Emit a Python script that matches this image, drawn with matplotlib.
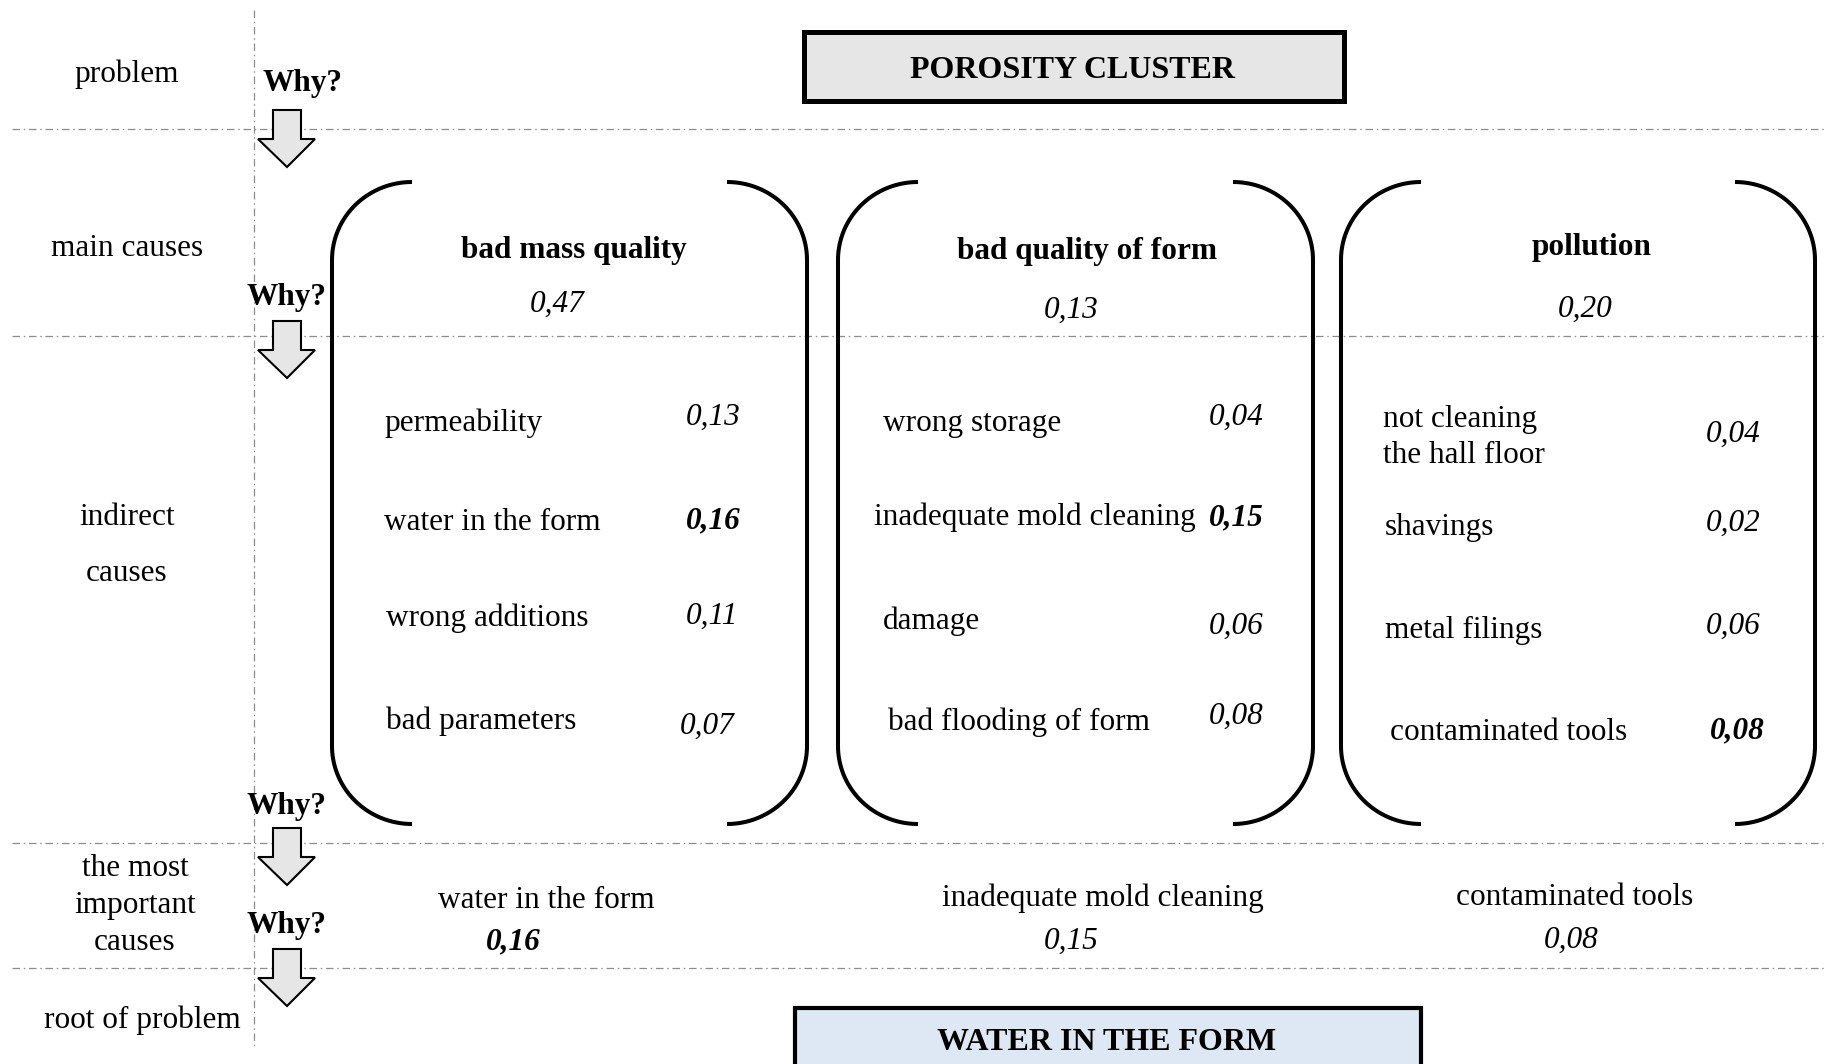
import numpy as np
import matplotlib
matplotlib.use('Agg')
import matplotlib.pyplot as plt
from matplotlib.patches import Rectangle, Polygon

# ==========================================
# DATA
# ==========================================
PROBLEM = 'POROSITY CLUSTER'
ROOT = 'WATER IN THE FORM'

levels = ['problem', 'main causes', 'indirect', 'causes',
          'the most', 'important', 'causes', 'root of problem']

main_causes = ['bad mass quality', 'bad quality of form', 'pollution']
main_weights = [0.47, 0.13, 0.20]

indirect_1 = ['permeability', 'water in the form', 'wrong additions', 'bad parameters']
weights_1 = [0.13, 0.16, 0.11, 0.07]
indirect_2 = ['wrong storage', 'inadequate mold cleaning', 'damage', 'bad flooding of form']
weights_2 = [0.04, 0.15, 0.06, 0.08]
indirect_3 = ['not cleaning\nthe hall floor', 'shavings', 'metal filings', 'contaminated tools']
weights_3 = [0.04, 0.02, 0.06, 0.08]

top_causes = ['water in the form', 'inadequate mold cleaning', 'contaminated tools']
top_weights = [0.16, 0.15, 0.08]


def fmt(v):
    return f'{v:.2f}'.replace('.', ',')


# ==========================================
# LAYOUT (pixel coordinates of the 1825x1064 canvas)
# ==========================================
plt.rcParams['font.family'] = ['Liberation Serif', 'DejaVu Serif']
FS = 22.5
DY = 3.5  # small baseline nudge for all text

fig = plt.figure(figsize=(18.25, 10.64), dpi=100)
ax = fig.add_axes([0, 0, 1, 1])
ax.set_xlim(0, 1825)
ax.set_ylim(1064, 0)
ax.axis('off')


def txt(x, y, s, **kw):
    kw.setdefault('ha', 'center')
    kw.setdefault('va', 'center')
    kw.setdefault('fontsize', FS)
    ax.text(x, y + DY, s, **kw)


dash = (0, (6, 3, 1.2, 3))
grey = '#8c8c8c'
ax.plot([254, 254], [10, 1047], color=grey, lw=0.9, ls=dash)
for y in [129, 336, 843, 968]:
    ax.plot([12, 1825], [y, y], color=grey, lw=0.9, ls=dash)

# level labels on the left
level_pos = [(127, 71), (127, 245), (127, 514), (127, 570),
             (135, 865), (135, 902), (135, 939), (142, 1017)]
for lab, (x, y) in zip(levels, level_pos):
    txt(x, y, lab)

# "Why?" + arrows
why_pos = [(303, 80), (287, 294), (287, 803), (287, 922)]
arrow_top = [110, 321, 828, 949]
for (x, y), top in zip(why_pos, arrow_top):
    txt(x, y, 'Why?', fontweight='bold')
    pts = [(273, top), (301, top), (301, top + 29), (315, top + 29),
           (287, top + 57), (258, top + 29), (273, top + 29)]
    ax.add_patch(Polygon(pts, closed=True, facecolor='#e6e6e6', edgecolor='black', lw=1.5, zorder=3))

# problem and root boxes
ax.add_patch(Rectangle((804, 32), 540, 69, facecolor='#e6e6e6', edgecolor='black', lw=3.6))
txt(1073, 67, PROBLEM, fontsize=23, fontweight='bold')
ax.add_patch(Rectangle((795, 1008), 626, 70, facecolor='#dde8f4', edgecolor='black', lw=3.0))
txt(1107, 1039, ROOT, fontsize=23, fontweight='bold')


# brackets
def bracket(xv, side, y0=182, y1=824, rx=80, ry=78):
    t = np.linspace(0, np.pi / 2, 40)
    d = 1 if side == 'left' else -1
    top_x = xv + d * rx * (1 - np.sin(t))
    top_y = y0 + ry * (1 - np.cos(t))
    bot_x = xv + d * rx * (1 - np.cos(t))
    bot_y = y1 - ry + ry * np.sin(t)
    xs = np.concatenate([top_x, bot_x])
    ys = np.concatenate([top_y, bot_y])
    ax.plot(xs, ys, color='black', lw=2.9, solid_capstyle='butt')


for xl, xr in [(332, 807), (838, 1313), (1341, 1815)]:
    bracket(xl, 'left')
    bracket(xr, 'right')

# main causes
main_pos = [(574, 247, 557, 301), (1087, 248, 1071, 307), (1592, 244, 1585, 306)]
for name, w, (xn, yn, xw, yw) in zip(main_causes, main_weights, main_pos):
    txt(xn, yn, name, fontweight='bold')
    txt(xw, yw, fmt(w), style='italic')

# indirect causes
groups = [
    (indirect_1, weights_1, [384, 384, 386, 386], [420, 519, 615, 718],
     [713, 713, 712, 707], [414, 517, 613, 723]),
    (indirect_2, weights_2, [883, 874, 883, 888], [420, 514, 618, 719],
     [1236, 1236, 1236, 1236], [414, 514, 623, 713]),
    (indirect_3, weights_3, [1383, 1385, 1385, 1390], [434, 524, 627, 729],
     [1733, 1733, 1733, 1737], [431, 520, 623, 727]),
]
for names, ws, xs, ys, wxs, wys in groups:
    best = int(np.argmax(ws))
    for i, (n, w) in enumerate(zip(names, ws)):
        txt(xs[i], ys[i], n, ha='left', linespacing=1.3)
        txt(wxs[i], wys[i], fmt(w), style='italic',
            fontweight='bold' if i == best else 'normal')

# most important causes
top_pos = [(546, 897, 513, 938), (1103, 895, 1071, 938), (1575, 894, 1571, 937)]
for i, (n, w, (xn, yn, xw, yw)) in enumerate(zip(top_causes, top_weights, top_pos)):
    txt(xn, yn, n)
    txt(xw, yw, fmt(w), style='italic', fontweight='bold' if i == 0 else 'normal')

fig.savefig('out.png', dpi=100)
